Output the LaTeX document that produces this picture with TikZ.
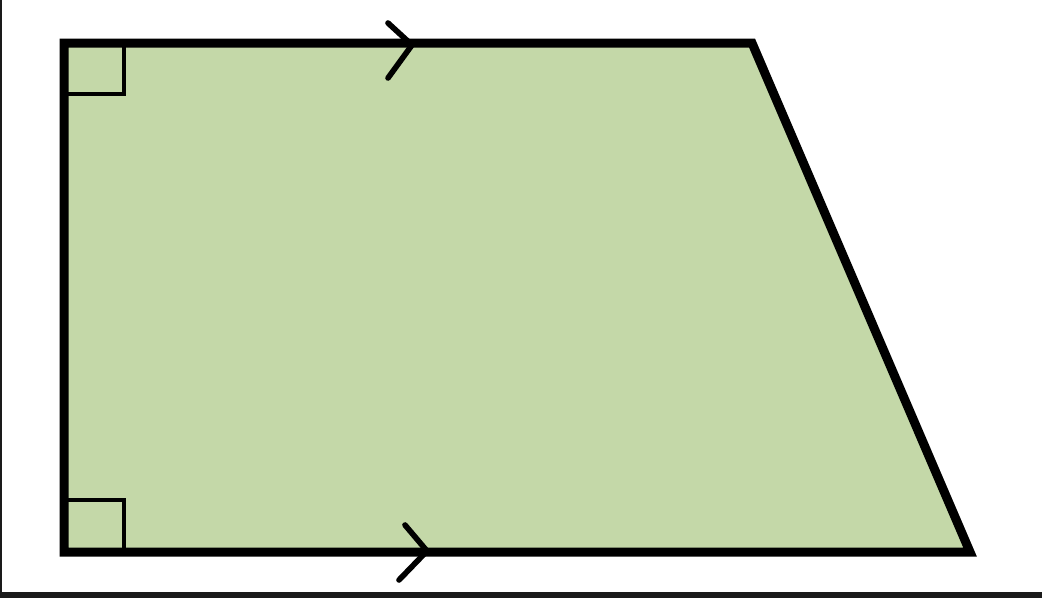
\documentclass[tikz,border=0pt]{standalone}
\usetikzlibrary{positioning, calc}
\definecolor{trapGreen}{RGB}{196, 216, 168}
\definecolor{frameDark}{RGB}{26, 26, 26}

\begin{document}
\begin{tikzpicture}[
        x=0.025cm, y=-0.025cm,
        edge/.style={draw=black, line width=6.4pt, line join=miter},
        rightmark/.style={draw=black, line width=2.4pt},
        chevron/.style={draw=black, line width=4pt, line cap=round, line join=round}
    ]
        % Frame
        \useasboundingbox (0,0) rectangle (1042,598);
        \fill[white] (0,0) rectangle (1042,598);
        \fill[frameDark] (0,592) rectangle (1042,598);
        \fill[frameDark] (0,0) rectangle (2,592);

        % Corners
        \coordinate (tl) at (64,43);
        \coordinate (tr) at (752,43);
        \coordinate (br) at (970,552);
        \coordinate (bl) at (64,552);
        \filldraw[edge, fill=trapGreen] (tl) -- (tr) -- (br) -- (bl) -- cycle;

        % Right angle marks
        \draw[rightmark] ($(tl)+(0,51)$) -| ($(tl)+(60,0)$);
        \draw[rightmark] ($(bl)+(0,-52)$) -| ($(bl)+(60,0)$);

        % Parallel marks
        \coordinate (toptip) at (412,45);
        \coordinate (bottip) at (427,551);
        \draw[chevron] ($(toptip)+(-24,-22)$) -- (toptip) -- ($(toptip)+(-24,33)$);
        \draw[chevron] ($(bottip)+(-22,-26)$) -- (bottip) -- ($(bottip)+(-28,29)$);
    \end{tikzpicture}
\end{document}
